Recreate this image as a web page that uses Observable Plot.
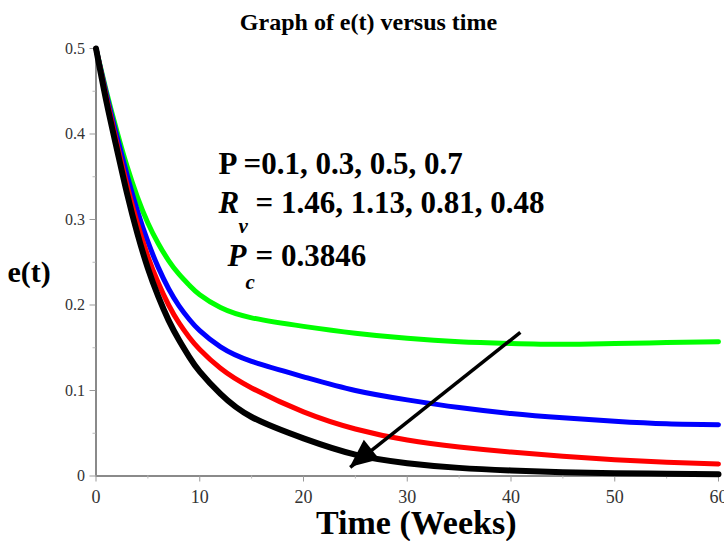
<!DOCTYPE html>
<html><head><meta charset="utf-8">
<script src="https://cdn.jsdelivr.net/npm/d3@7"></script>
<script src="https://cdn.jsdelivr.net/npm/@observablehq/plot@0.6"></script>
<style>
html,body{margin:0;padding:0;background:#fff;overflow:hidden;}
#title{box-sizing:border-box;width:724px;height:36px;padding:10px 0 2px 13px;font-family:"Liberation Serif","Times New Roman",serif;font-weight:bold;font-size:24px;line-height:24px;text-align:center;white-space:nowrap;color:#000;}
#chart svg{display:block;}
#chart svg text{font-family:"Liberation Serif","Times New Roman",serif !important;}
</style></head><body>
<div id="title">Graph of e(t) versus time</div>
<div id="chart"></div>
<script>
// ---- data ----
const time   = [0, 1, 2, 3, 4, 5, 6, 7, 8, 9, 10, 12, 15, 20, 25, 30, 35, 40, 45, 50, 55, 60];
const eGreen = [0.5, 0.45, 0.404, 0.362, 0.326, 0.296, 0.272, 0.252, 0.236, 0.223, 0.212, 0.197, 0.185, 0.175, 0.167, 0.161, 0.157, 0.155, 0.154, 0.155, 0.156, 0.157];
const eBlue  = [0.5, 0.447, 0.398, 0.352, 0.31, 0.274, 0.244, 0.219, 0.199, 0.183, 0.17, 0.151, 0.134, 0.116, 0.1, 0.089, 0.08, 0.073, 0.068, 0.064, 0.061, 0.06];
const eRed   = [0.5, 0.443, 0.39, 0.34, 0.295, 0.257, 0.226, 0.2, 0.179, 0.162, 0.148, 0.126, 0.103, 0.075, 0.055, 0.042, 0.034, 0.028, 0.023, 0.019, 0.016, 0.014];
const eBlack = [0.5, 0.438, 0.383, 0.33, 0.283, 0.243, 0.21, 0.182, 0.159, 0.139, 0.122, 0.096, 0.069, 0.044, 0.025, 0.015, 0.0095, 0.0065, 0.0045, 0.0033, 0.0026, 0.002];
const seriesNames  = ["P = 0.1", "P = 0.3", "P = 0.5", "P = 0.7"];
const seriesColors = ["#00ff00", "#0000ff", "#ff0000", "#000000"];
const pValues  = [0.1, 0.3, 0.5, 0.7];
const rvValues = [1.46, 1.13, 0.81, 0.48];
const pcValue  = 0.3846;
const xTicks = [0, 10, 20, 30, 40, 50, 60];
const xMinor = [5, 15, 25, 35, 45, 55];
const yTicks = [0, 0.1, 0.2, 0.3, 0.4, 0.5];
const yMinor = [0.05, 0.15, 0.25, 0.35, 0.45];
const arrowStart = {x: 40.9, y: 0.168};
const arrowEnd   = {x: 24.5, y: 0.01};

// ---- build table ----
const allSeries = [eGreen, eBlue, eRed, eBlack];
const rows = [];
allSeries.forEach((vals, s) => vals.forEach((v, i) => rows.push({t: time[i], e: v, s: seriesNames[s]})));

const serif = "'Liberation Serif', 'Times New Roman', serif";
const line1 = "P =" + pValues.join(", ");
const line2 = "= " + rvValues.join(", ");
const line3 = "= " + pcValue;

function arrowHead(index, scales) {
  const x1 = scales.x(arrowStart.x), y1 = scales.y(arrowStart.y);
  const x2 = scales.x(arrowEnd.x), y2 = scales.y(arrowEnd.y);
  const a = Math.atan2(y2 - y1, x2 - x1);
  const L = 28, W = 12.5;
  const bx = x2 - L * Math.cos(a), by = y2 - L * Math.sin(a);
  const p1 = [bx + W * Math.sin(a), by - W * Math.cos(a)];
  const p2 = [bx - W * Math.sin(a), by + W * Math.cos(a)];
  const path = document.createElementNS("http://www.w3.org/2000/svg", "path");
  path.setAttribute("d", `M${x2},${y2}L${p1[0]},${p1[1]}L${p2[0]},${p2[1]}Z`);
  path.setAttribute("fill", "#000");
  return path;
}

const txt = (s, o) => Plot.text([s], {text: d => d, frameAnchor: "top-left", textAnchor: "start", lineAnchor: "bottom",
  fontFamily: serif, fontWeight: "bold", fill: "#000", ...o});

const plot = Plot.plot({
  width: 724, height: 505,
  marginTop: 12, marginBottom: 65.5, marginLeft: 95.5, marginRight: 6,
  x: {domain: [0, 60]},
  y: {domain: [0, 0.5]},
  color: {domain: seriesNames, range: seriesColors},
  style: {background: "#fff", overflow: "hidden", fontFamily: serif},
  marks: [
    Plot.ruleY([0], {x1: 0, x2: 60, stroke: "#8a8a8a", strokeWidth: 2}),
    Plot.ruleX([0], {y1: 0, y2: 0.5, stroke: "#8a8a8a", strokeWidth: 2}),
    Plot.axisX({ticks: xTicks, tickSize: 6, tickPadding: 8, tickFormat: d => String(d), label: null,
      fontSize: 18, fontFamily: serif, stroke: "#999", fill: "#333"}),
    Plot.axisX({ticks: xMinor, tickSize: 3, tickFormat: () => "", label: null, stroke: "#bbb"}),
    Plot.axisY({ticks: yTicks, tickSize: 6, tickPadding: 5, tickFormat: d => String(d), label: null,
      fontSize: 16, fontFamily: serif, stroke: "#999", fill: "#333"}),
    Plot.axisY({ticks: yMinor, tickSize: 3, tickFormat: () => "", label: null, stroke: "#bbb"}),
    Plot.line(rows, {x: "t", y: "e", z: "s", stroke: "s", strokeWidth: d => d.s === seriesNames[3] ? 6 : 5, curve: "natural"}),
    Plot.link([arrowStart], {x1: "x", y1: "y", x2: () => arrowEnd.x, y2: () => arrowEnd.y, stroke: "#000", strokeWidth: 3.5}),
    arrowHead,
    txt(line1, {dx: 122.5, dy: 125, fontSize: 31}),
    txt("R", {dx: 122.5, dy: 164, fontSize: 31, fontStyle: "italic"}),
    txt("v", {dx: 142.5, dy: 184, fontSize: 21, fontStyle: "italic"}),
    txt(line2, {dx: 159.5, dy: 164, fontSize: 31}),
    txt("P", {dx: 131.5, dy: 217, fontSize: 31, fontStyle: "italic"}),
    txt("c", {dx: 149.5, dy: 240, fontSize: 21, fontStyle: "italic"}),
    txt(line3, {dx: 159.5, dy: 217, fontSize: 31}),
    Plot.text(["e(t)"], {text: d => d, frameAnchor: "left", textAnchor: "start", lineAnchor: "bottom", dx: -88.5, dy: 20,
      fontFamily: serif, fontWeight: "bold", fontSize: 30, fill: "#000"}),
    Plot.text(["Time (Weeks)"], {text: d => d, frameAnchor: "bottom", textAnchor: "middle", lineAnchor: "bottom", dx: 9, dy: 58,
      fontFamily: serif, fontWeight: "bold", fontSize: 34, fill: "#000"})
  ]
});
document.getElementById("chart").appendChild(plot);
</script>
</body></html>
